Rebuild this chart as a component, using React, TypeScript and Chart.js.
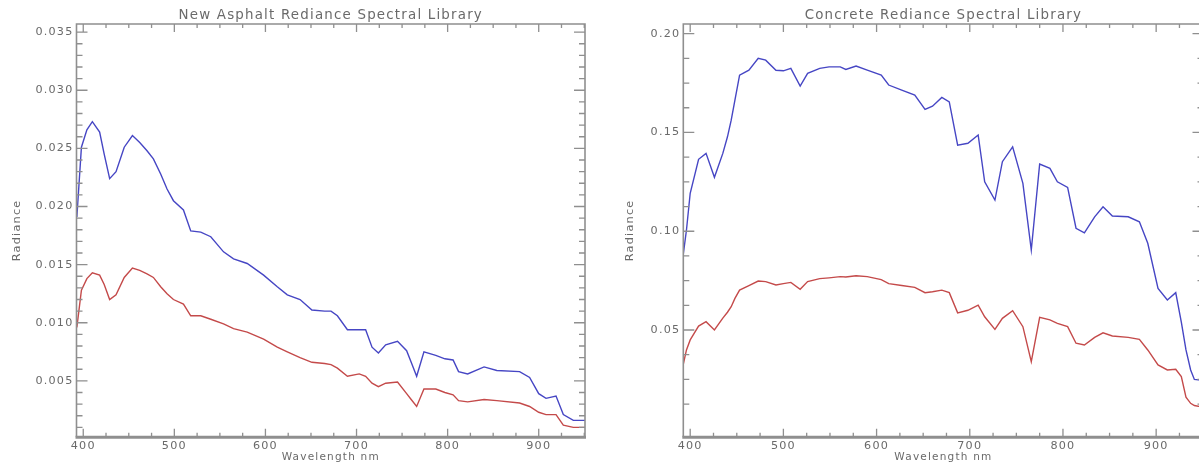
import React, { useEffect, useRef } from "react";
import { Chart, registerables } from "chart.js";

Chart.register(...registerables);

// ---------- data ----------
const xMajorTicks = [400, 500, 600, 700, 800, 900];
const asphaltYTicks = [0.005, 0.01, 0.015, 0.02, 0.025, 0.03, 0.035];
const concreteYTicks = [0.05, 0.1, 0.15, 0.2];

const asphaltTitle = "New Asphalt Rediance Spectral Library";
const concreteTitle = "Concrete Rediance Spectral Library";

const asphaltWavelength = [393, 398, 404, 410, 418, 423, 429, 436, 445, 454, 462, 470, 477, 485, 492, 499, 510, 518, 529, 540, 554, 565, 580, 598, 613, 624, 638, 651, 665, 672, 679, 690, 703, 710, 717, 724, 732, 745, 755, 760, 766, 774, 787, 797, 806, 812, 822, 840, 854, 879, 890, 900, 908, 919, 927, 938, 951];
const asphaltBlue = [0.0191, 0.0251, 0.0266, 0.0273, 0.0264, 0.0245, 0.0224, 0.023, 0.0251, 0.0261, 0.0255, 0.0248, 0.0241, 0.0228, 0.0215, 0.0205, 0.0197, 0.0179, 0.0178, 0.0174, 0.0161, 0.0155, 0.0151, 0.0141, 0.0131, 0.0124, 0.012, 0.0111, 0.011, 0.011, 0.0106, 0.0094, 0.0094, 0.0094, 0.0079, 0.0074, 0.0081, 0.0084, 0.0076, 0.0066, 0.0054, 0.0075, 0.0072, 0.0069, 0.0068, 0.0058, 0.0056, 0.0062, 0.0059, 0.0058, 0.0053, 0.0039, 0.0035, 0.0037, 0.0021, 0.0016, 0.0016];
const asphaltRed = [0.0096, 0.0128, 0.0138, 0.0143, 0.0141, 0.0133, 0.012, 0.0124, 0.0139, 0.0147, 0.0145, 0.0142, 0.0139, 0.0131, 0.0125, 0.012, 0.0116, 0.0106, 0.0106, 0.0103, 0.0099, 0.0095, 0.0092, 0.0086, 0.0079, 0.0075, 0.007, 0.0066, 0.0065, 0.0064, 0.0061, 0.0054, 0.0056, 0.0054, 0.0048, 0.0045, 0.0048, 0.0049, 0.0039, 0.0034, 0.0028, 0.0043, 0.0043, 0.004, 0.0038, 0.0033, 0.0032, 0.0034, 0.0033, 0.0031, 0.0028, 0.0023, 0.0021, 0.0021, 0.0012, 0.001, 0.001];

const concreteWavelength = [392, 396, 400, 409, 417, 426, 435, 440, 444, 448, 453, 463, 473, 481, 492, 500, 508, 518, 526, 539, 549, 561, 567, 578, 590, 605, 613, 627, 641, 652, 660, 670, 678, 687, 698, 709, 716, 727, 735, 746, 757, 766, 775, 786, 794, 805, 814, 823, 834, 843, 853, 870, 882, 891, 902, 912, 921, 927, 932, 937, 941, 950];
const concreteBlue = [0.0863, 0.1006, 0.1192, 0.1364, 0.1394, 0.1273, 0.1394, 0.1478, 0.1562, 0.1664, 0.179, 0.1815, 0.1875, 0.1866, 0.1815, 0.1812, 0.1824, 0.1735, 0.1799, 0.1824, 0.1832, 0.1832, 0.1819, 0.1836, 0.1815, 0.179, 0.174, 0.1714, 0.1689, 0.1617, 0.1633, 0.1677, 0.1655, 0.1436, 0.1445, 0.1487, 0.125, 0.1158, 0.1352, 0.1427, 0.1242, 0.0905, 0.134, 0.1318, 0.125, 0.1222, 0.1015, 0.0992, 0.1073, 0.1124, 0.1077, 0.1073, 0.1048, 0.0939, 0.0711, 0.0652, 0.0689, 0.054, 0.0399, 0.0298, 0.025, 0.0245];
const concreteRed = [0.0314, 0.0399, 0.045, 0.052, 0.0542, 0.05, 0.056, 0.059, 0.0618, 0.066, 0.0702, 0.0725, 0.0748, 0.0745, 0.0728, 0.0735, 0.0741, 0.0706, 0.0745, 0.076, 0.0764, 0.077, 0.0768, 0.0775, 0.077, 0.0755, 0.0735, 0.0725, 0.0716, 0.0689, 0.0694, 0.0702, 0.0689, 0.0587, 0.06, 0.0626, 0.0567, 0.0503, 0.0559, 0.0598, 0.0517, 0.034, 0.0564, 0.0551, 0.0534, 0.0517, 0.0433, 0.0424, 0.0463, 0.0486, 0.047, 0.0463, 0.0453, 0.0399, 0.0323, 0.0298, 0.0301, 0.0264, 0.016, 0.0129, 0.0118, 0.011];

// ---------- styling ----------
const FONT = "'DejaVu Sans', 'Liberation Sans', sans-serif";
const TEXT = "#6a6a6a";
const AXIS = "#8f8f8f";
const BLUE = "#4646c4";
const RED = "#c44a4a";

function steps(from: number, to: number, step: number): number[] {
  const out: number[] = [];
  for (let v = from; v <= to + step * 1e-6; v += step) out.push(+v.toFixed(6));
  return out;
}

const framePlugin = {
  id: "idlFrame",
  beforeDraw(chart: any) {
    (chart.ctx as any).letterSpacing = "1.2px";
  },
  afterDraw(chart: any, _args: any, opts: any) {
    const { ctx, chartArea: a } = chart;
    const xs = chart.scales.x;
    const ys = chart.scales.y;
    ctx.save();
    ctx.strokeStyle = AXIS;
    ctx.lineWidth = 1.6;
    ctx.beginPath();
    ctx.moveTo(a.left, a.bottom);
    ctx.lineTo(a.left, a.top);
    ctx.lineTo(a.right, a.top);
    ctx.lineTo(a.right, a.bottom);
    ctx.stroke();
    ctx.lineWidth = 3;
    ctx.beginPath();
    ctx.moveTo(a.left - 1, a.bottom + 0.5);
    ctx.lineTo(a.right + 1, a.bottom + 0.5);
    ctx.stroke();

    ctx.lineWidth = 1.3;
    ctx.beginPath();
    const xMinor: number[] = opts.xMinor || [];
    const xMajor: number[] = opts.xMajor || [];
    const tickX = (v: number, len: number) => {
      const px = xs.getPixelForValue(v);
      if (px < a.left || px > a.right) return;
      ctx.moveTo(px, a.bottom);
      ctx.lineTo(px, a.bottom - len);
      ctx.moveTo(px, a.top);
      ctx.lineTo(px, a.top + len);
    };
    xMinor.forEach((v) => tickX(v, 4));
    xMajor.forEach((v) => tickX(v, 8));
    const yMinor: number[] = opts.yMinor || [];
    const yMajor: number[] = opts.yMajor || [];
    const tickY = (v: number, len: number) => {
      const py = ys.getPixelForValue(v);
      if (py < a.top || py > a.bottom) return;
      ctx.moveTo(a.left, py);
      ctx.lineTo(a.left + len, py);
      ctx.moveTo(a.right, py);
      ctx.lineTo(a.right - len, py);
    };
    yMinor.forEach((v) => tickY(v, 6));
    yMajor.forEach((v) => tickY(v, 11));
    ctx.stroke();
    ctx.restore();
  },
};

type PanelProps = {
  title: string;
  wavelength: number[];
  blue: number[];
  red: number[];
  yTicks: number[];
  yMinor: number[];
  yMin: number;
  yMax: number;
  decimals: number;
  yAxisWidth: number;
  yTitlePad: number;
  padRight: number;
  width: number;
  left: number;
};

const CANVAS_H = 475;

function Panel(p: PanelProps) {
  const ref = useRef<HTMLCanvasElement | null>(null);
  useEffect(() => {
    if (!ref.current) return;
    const tickFont = { family: FONT, size: 11.2 };
    const chart = new Chart(ref.current, {
      type: "line",
      data: {
        datasets: [
          {
            label: "blue",
            data: p.wavelength.map((w, i) => ({ x: w, y: p.blue[i] })),
            borderColor: BLUE,
            borderWidth: 1.4,
            pointRadius: 0,
            tension: 0,
          },
          {
            label: "red",
            data: p.wavelength.map((w, i) => ({ x: w, y: p.red[i] })),
            borderColor: RED,
            borderWidth: 1.4,
            pointRadius: 0,
            tension: 0,
          },
        ],
      },
      options: {
        animation: false,
        responsive: false,
        devicePixelRatio: 1,
        layout: { padding: { left: 0, right: p.padRight, top: 0, bottom: 0 } },
        plugins: {
          legend: { display: false },
          tooltip: { enabled: false },
          title: {
            display: true,
            text: p.title,
            fullSize: false,
            color: TEXT,
            font: { family: FONT, size: 13.4, weight: "normal" },
            padding: { top: 7.5, bottom: 0.4 },
          },
          idlFrame: {
            xMajor: xMajorTicks,
            xMinor: steps(400, 950, 25),
            yMajor: p.yTicks,
            yMinor: p.yMinor,
          },
        } as any,
        scales: {
          x: {
            type: "linear",
            min: 392.6,
            max: 950.8,
            grid: { display: false, drawTicks: false },
            border: { display: false },
            afterBuildTicks: (s: any) => {
              s.ticks = xMajorTicks.map((v) => ({ value: v }));
            },
            afterFit: (s: any) => {
              s.height = CANVAS_H - 436.7;
            },
            ticks: {
              color: TEXT,
              font: tickFont,
              padding: 3,
              maxRotation: 0,
              autoSkip: false,
              callback: (v: any) => String(v),
            },
            title: {
              display: true,
              text: "Wavelength nm",
              color: TEXT,
              font: { family: FONT, size: 10.5 },
              padding: { top: 0, bottom: 11.2 },
            },
          },
          y: {
            type: "linear",
            min: p.yMin,
            max: p.yMax,
            grid: { display: false, drawTicks: false },
            border: { display: false },
            afterBuildTicks: (s: any) => {
              s.ticks = p.yTicks.map((v) => ({ value: v }));
            },
            afterFit: (s: any) => {
              s.width = p.yAxisWidth;
            },
            ticks: {
              color: TEXT,
              font: tickFont,
              padding: 3,
              autoSkip: false,
              callback: (v: any) => Number(v).toFixed(p.decimals),
            },
            title: {
              display: true,
              text: "Radiance",
              color: TEXT,
              font: { family: FONT, size: 11.3 },
              padding: { top: p.yTitlePad, bottom: 0 },
            },
          },
        },
      },
      plugins: [framePlugin],
    } as any);
    return () => chart.destroy();
  }, []);
  return (
    <canvas
      ref={ref}
      width={p.width}
      height={CANVAS_H}
      style={{ position: "absolute", left: p.left, top: 0, width: p.width, height: CANVAS_H }}
    />
  );
}

export default function App() {
  return (
    <div
      style={{
        position: "fixed",
        left: 0,
        top: 0,
        width: 1199,
        height: 463,
        overflow: "hidden",
        background: "#ffffff",
      }}
    >
      <Panel
        title={asphaltTitle}
        wavelength={asphaltWavelength}
        blue={asphaltBlue}
        red={asphaltRed}
        yTicks={asphaltYTicks}
        yMinor={steps(0.001, 0.035, 0.001)}
        yMin={0.0002}
        yMax={0.0357}
        decimals={3}
        yAxisWidth={76.5}
        yTitlePad={10.2}
        padRight={15}
        width={600}
        left={0}
      />
      <Panel
        title={concreteTitle}
        wavelength={concreteWavelength}
        blue={concreteBlue}
        red={concreteRed}
        yTicks={concreteYTicks}
        yMinor={steps(0.0125, 0.2, 0.0125)}
        yMin={-0.004}
        yMax={0.2049}
        decimals={2}
        yAxisWidth={83.3}
        yTitlePad={23.2}
        padRight={6.5}
        width={610}
        left={600}
      />
    </div>
  );
}
